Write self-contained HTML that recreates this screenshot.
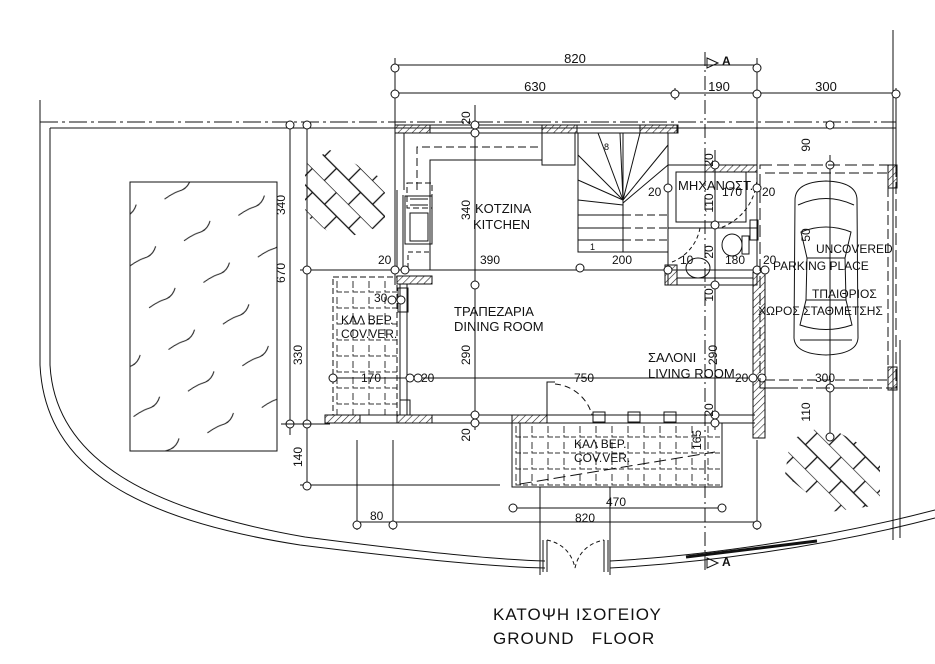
<!DOCTYPE html>
<html><head><meta charset="utf-8">
<style>
html,body{margin:0;padding:0;background:#fff;}
svg{display:block;}
text{font-family:"Liberation Sans","DejaVu Sans",sans-serif;fill:#111;}
</style></head>
<body>
<svg width="935" height="664" viewBox="0 0 935 664" xmlns="http://www.w3.org/2000/svg">
<defs>
 <pattern id="hatch" width="5" height="5" patternUnits="userSpaceOnUse" patternTransform="rotate(45)">
  <line x1="0" y1="0" x2="0" y2="5" stroke="#222" stroke-width="1.2"/>
 </pattern>
 <pattern id="tile" width="16" height="16" patternUnits="userSpaceOnUse" x="335" y="279">
  <path d="M2 2 V13 H14" fill="none" stroke="#333" stroke-width="1" stroke-dasharray="7,2"/>
 </pattern>
 <pattern id="tile2" width="16" height="16" patternUnits="userSpaceOnUse" x="514" y="424">
  <path d="M2 2 V13 H14" fill="none" stroke="#333" stroke-width="1" stroke-dasharray="7,2"/>
 </pattern>
 <pattern id="herr" width="34" height="34" patternUnits="userSpaceOnUse" patternTransform="rotate(45)">
  <rect x="0" y="0" width="34" height="17" fill="none" stroke="#111" stroke-width="1.3"/>
  <line x1="17" y1="17" x2="17" y2="34" stroke="#111" stroke-width="1.3"/>
 </pattern>
 <pattern id="grass" width="60" height="46" patternUnits="userSpaceOnUse" patternTransform="rotate(-25)">
  <path d="M5 20 q10 -2 18 -1 q8 1 14 -6" fill="none" stroke="#222" stroke-width="1"/>
 </pattern>
 <clipPath id="hb1"><polygon points="330,150 385,180 385,225 340,240 305,215 305,165"/></clipPath>
 <clipPath id="hb2"><polygon points="825,425 880,455 880,505 830,512 785,475 790,440"/></clipPath>
</defs>

<g fill="none" stroke="#111" stroke-width="1">
 <line x1="40" y1="100" x2="40" y2="365"/>
 <line x1="40" y1="122" x2="896" y2="122" stroke-dasharray="18,4,3,4"/>
 <line x1="50" y1="128" x2="896" y2="128"/>
 <line x1="50" y1="128" x2="50" y2="365"/>
 <path d="M40 365 C45 470 140 520 300 545 C420 560 500 567 545 568"/>
 <path d="M50 365 C55 460 150 510 305 537 C420 552 500 560 545 561"/>
 <path d="M610 568 C700 563 820 548 935 518"/>
 <path d="M610 561 C700 556 820 540 935 510"/>
 <line x1="893" y1="30" x2="893" y2="540"/>
 <line x1="900" y1="340" x2="900" y2="538"/>
 <line x1="686" y1="557" x2="817" y2="541" stroke-width="3"/>
 <rect x="130" y="182" width="147" height="269" fill="url(#grass)"/>
 <rect x="300" y="145" width="90" height="100" fill="url(#herr)" stroke="none" clip-path="url(#hb1)"/>
 <rect x="780" y="420" width="105" height="100" fill="url(#herr)" stroke="none" clip-path="url(#hb2)"/>

 <line x1="395" y1="65" x2="757" y2="65"/>
 <line x1="395" y1="93" x2="896" y2="93"/>
 <line x1="395" y1="58" x2="395" y2="125"/>
 <line x1="757" y1="58" x2="757" y2="165"/>
 <line x1="675" y1="88" x2="675" y2="100"/>
 <line x1="896" y1="88" x2="896" y2="165"/>
 <g fill="#fff">
 <circle cx="395" cy="68" r="4"/><circle cx="395" cy="94" r="4"/><circle cx="675" cy="94" r="4"/>
 <circle cx="757" cy="68" r="4"/><circle cx="757" cy="94" r="4"/><circle cx="896" cy="94" r="4"/>
 </g>
 <line x1="705" y1="52" x2="705" y2="572" stroke-dasharray="14,4,2,4"/>
 <path d="M707 58 L718 63 L707 68 Z"/>
 <path d="M707 558 L718 563 L707 568 Z"/>

 <line x1="290" y1="122" x2="290" y2="435"/>
 <line x1="307" y1="122" x2="307" y2="485"/>
 <line x1="300" y1="270" x2="395" y2="270"/>
 <line x1="300" y1="485" x2="500" y2="485"/>
 <g fill="#fff">
 <circle cx="290" cy="125" r="4"/><circle cx="307" cy="125" r="4"/><circle cx="307" cy="270" r="4"/>
 <circle cx="290" cy="424" r="4"/><circle cx="307" cy="424" r="4"/><circle cx="307" cy="486" r="4"/>
 </g>
 <line x1="281" y1="424" x2="330" y2="424"/>

 <rect x="395" y="125" width="283" height="8"/>
 <rect x="395" y="125" width="35" height="8" fill="url(#hatch)"/>
 <rect x="542" y="125" width="35" height="8" fill="url(#hatch)"/>
 <rect x="640" y="125" width="37" height="8" fill="url(#hatch)"/>
 <line x1="395" y1="125" x2="395" y2="285"/>
 <line x1="404" y1="133" x2="404" y2="190"/>
 <line x1="397" y1="190" x2="397" y2="270"/>
 <line x1="403" y1="195" x2="403" y2="270"/>
 <path d="M417 190 V147 H542" stroke-dasharray="8,4"/>
 <path d="M430 270 V160 H542"/>
 <rect x="542" y="133" width="33" height="32"/>
 <rect x="407" y="183" width="25" height="25" stroke-dasharray="6,3"/>
 <rect x="405" y="196" width="27" height="48"/>
 <rect x="410" y="213" width="18" height="28"/>
 <line x1="410" y1="199" x2="428" y2="199"/><line x1="410" y1="205" x2="428" y2="205"/>
 <rect x="408" y="252" width="22" height="18" stroke-dasharray="5,3"/>
 <rect x="578" y="133" width="90" height="119"/>
 <line x1="623" y1="133" x2="623" y2="252"/>
 <g>
 <line x1="578" y1="155" x2="623" y2="200"/><line x1="598" y1="133" x2="623" y2="200"/>
 <line x1="620" y1="133" x2="623" y2="200"/><line x1="640" y1="133" x2="623" y2="200"/>
 <line x1="668" y1="145" x2="623" y2="200"/><line x1="668" y1="165" x2="623" y2="203"/>
 <line x1="578" y1="180" x2="623" y2="200"/><line x1="578" y1="200" x2="623" y2="205"/>
 <line x1="578" y1="215" x2="623" y2="215"/><line x1="578" y1="228" x2="623" y2="228"/>
 <line x1="578" y1="240" x2="623" y2="240"/>
 <line x1="623" y1="215" x2="668" y2="215" stroke-dasharray="8,4"/>
 <line x1="623" y1="228" x2="668" y2="228" stroke-dasharray="8,4"/>
 <line x1="623" y1="240" x2="668" y2="240" stroke-dasharray="8,4"/>
 </g>
 <rect x="668" y="165" width="89" height="63"/>
 <rect x="676" y="172" width="70" height="50"/>
 <rect x="705" y="165" width="52" height="7" fill="url(#hatch)"/>
 <path d="M757 175 A55 55 0 0 1 720 228" stroke-dasharray="4,3"/>
 <rect x="668" y="228" width="89" height="57"/>
 <rect x="665" y="265" width="12" height="20" fill="url(#hatch)"/>
 <line x1="677" y1="278" x2="753" y2="278"/>
 <path d="M700 228 A45 45 0 0 1 672 262" stroke-dasharray="4,3"/>
 <ellipse cx="732" cy="245" rx="10" ry="11"/>
 <rect x="742" y="236" width="7" height="18"/>
 <ellipse cx="698" cy="268" rx="12" ry="10"/>
 <rect x="753" y="272" width="12" height="166" fill="url(#hatch)"/>
 <rect x="750" y="220" width="8" height="20"/>
 <line x1="330" y1="270" x2="760" y2="270"/>
 <rect x="397" y="276" width="35" height="8" fill="url(#hatch)"/>
 <line x1="400" y1="284" x2="400" y2="415"/>
 <line x1="407" y1="284" x2="407" y2="415"/>
 <rect x="398" y="288" width="10" height="24"/>
 <rect x="400" y="400" width="10" height="15"/>
 <rect x="333" y="277" width="64" height="138" fill="url(#tile)" stroke-dasharray="6,3"/>
 <line x1="325" y1="415" x2="755" y2="415"/>
 <line x1="325" y1="423" x2="755" y2="423"/>
 <rect x="325" y="415" width="35" height="8" fill="url(#hatch)"/>
 <rect x="397" y="415" width="35" height="8" fill="url(#hatch)"/>
 <rect x="512" y="415" width="35" height="8" fill="url(#hatch)"/>
 <path d="M547 415 V382 H555"/>
 <path d="M555 384 A42 42 0 0 1 592 415" stroke-dasharray="6,4"/>
 <rect x="593" y="412" width="12" height="10"/><rect x="628" y="412" width="12" height="10"/><rect x="664" y="412" width="12" height="10"/>
 <rect x="512" y="423" width="210" height="64" fill="url(#tile2)"/>
 <line x1="520" y1="423" x2="520" y2="485"/>
 <line x1="520" y1="484" x2="715" y2="452" stroke-dasharray="12,5"/>
 <rect x="512" y="423" width="210" height="64"/>
 <line x1="475" y1="105" x2="475" y2="430"/>
 <line x1="330" y1="378" x2="760" y2="378"/>
 <line x1="715" y1="150" x2="715" y2="430"/>
 <line x1="830" y1="155" x2="830" y2="440"/>
 <line x1="760" y1="388" x2="896" y2="388" stroke-dasharray="10,4"/>
 <g fill="#fff">
 <circle cx="475" cy="125" r="4"/><circle cx="475" cy="133" r="4"/><circle cx="475" cy="285" r="4"/>
 <circle cx="475" cy="415" r="4"/><circle cx="475" cy="423" r="4"/>
 <circle cx="395" cy="270" r="4"/><circle cx="405" cy="270" r="4"/><circle cx="580" cy="268" r="4"/>
 <circle cx="668" cy="270" r="4"/><circle cx="757" cy="270" r="4"/><circle cx="765" cy="270" r="4"/>
 <circle cx="333" cy="378" r="4"/><circle cx="410" cy="378" r="4"/><circle cx="418" cy="378" r="4"/>
 <circle cx="753" cy="378" r="4"/><circle cx="762" cy="378" r="4"/>
 <circle cx="715" cy="165" r="4"/><circle cx="715" cy="225" r="4"/><circle cx="715" cy="285" r="4"/>
 <circle cx="715" cy="415" r="4"/><circle cx="715" cy="423" r="4"/>
 <circle cx="830" cy="125" r="4"/><circle cx="830" cy="165" r="4"/><circle cx="830" cy="388" r="4"/><circle cx="830" cy="437" r="4"/>
 <circle cx="668" cy="188" r="4"/><circle cx="757" cy="188" r="4"/><circle cx="401" cy="300" r="4"/><circle cx="392" cy="300" r="4"/>
 </g>
 <rect x="760" y="165" width="136" height="223" stroke-dasharray="12,5"/>
 <line x1="765" y1="173" x2="890" y2="173" stroke-dasharray="10,4"/>
 <line x1="888" y1="173" x2="888" y2="380" stroke-dasharray="10,4"/>
 <line x1="765" y1="380" x2="890" y2="380" stroke-dasharray="10,4"/>
 <rect x="888" y="165" width="9" height="23" fill="url(#hatch)"/>
 <rect x="888" y="367" width="9" height="23" fill="url(#hatch)"/>
 <!-- car -->
 <path d="M795 200 Q795 182 826 181 Q857 182 857 200 L858 338 Q857 354 826 355 Q795 354 794 338 Z"/>
 <path d="M798 205 Q826 192 854 205"/>
 <path d="M801 232 Q826 222 851 232 L845 258 L807 258 Z"/>
 <path d="M806 300 L846 300 L852 325 Q826 334 800 325 Z"/>
 <line x1="807" y1="258" x2="806" y2="300"/><line x1="845" y1="258" x2="846" y2="300"/>
 <line x1="800" y1="340" x2="852" y2="340"/>
 <line x1="513" y1="508" x2="722" y2="508"/>
 <line x1="357" y1="522" x2="757" y2="522"/>
 <line x1="357" y1="440" x2="357" y2="530"/>
 <line x1="393" y1="440" x2="393" y2="530"/>
 <line x1="757" y1="440" x2="757" y2="530"/>
 <line x1="540" y1="487" x2="540" y2="575"/>
 <line x1="610" y1="487" x2="610" y2="575"/>
 <g fill="#fff">
 <circle cx="513" cy="508" r="4"/><circle cx="722" cy="508" r="4"/>
 <circle cx="357" cy="525" r="4"/><circle cx="393" cy="525" r="4"/><circle cx="757" cy="525" r="4"/>
 </g>
 <line x1="543" y1="540" x2="543" y2="572"/><line x1="547" y1="540" x2="547" y2="572"/>
 <line x1="604" y1="540" x2="604" y2="572"/><line x1="608" y1="540" x2="608" y2="572"/>
 <path d="M547 540 Q570 545 575 568 Q580 545 604 540" stroke-dasharray="4,3"/>
</g>

<g font-size="12">
 <text x="575" y="63" text-anchor="middle" font-size="13">820</text>
 <text x="535" y="91" text-anchor="middle" font-size="13">630</text>
 <text x="719" y="91" text-anchor="middle" font-size="13">190</text>
 <text x="826" y="91" text-anchor="middle" font-size="13">300</text>
 <text x="722" y="65" font-size="12" font-weight="bold">A</text>
 <text x="722" y="566" font-size="12" font-weight="bold">A</text>
 <text x="604" y="150" font-size="9">8</text>
 <text x="590" y="250" font-size="9">1</text>
 <text x="475" y="213" font-size="13">KOTZINA</text>
 <text x="473" y="229" font-size="13">KITCHEN</text>
 <text x="454" y="316" font-size="13">ΤΡΑΠΕΖΑΡΙΑ</text>
 <text x="454" y="331" font-size="13">DINING ROOM</text>
 <text x="648" y="362" font-size="13">ΣΑΛΟΝΙ</text>
 <text x="648" y="378" font-size="13">LIVING ROOM</text>
 <text x="341" y="324" font-size="12">ΚΑΛ ΒΕΡ.</text>
 <text x="341" y="338" font-size="12">COV.VER.</text>
 <text x="574" y="448" font-size="12">ΚΑΛ ΒΕΡ.</text>
 <text x="574" y="462" font-size="12">COV.VER.</text>
 <text x="678" y="190" font-size="13">ΜΗΧΑΝΟΣΤ.</text>
 <text x="816" y="253" font-size="12">UNCOVERED</text>
 <text x="773" y="270" font-size="12">PARKING PLACE</text>
 <text x="812" y="298" font-size="12">ΤΠΑΙΘΡΙΟΣ</text>
 <text x="758" y="315" font-size="12">ΧΩΡΟΣ ΣΤΑΘΜΕΤΣΗΣ</text>
 <text x="480" y="264">390</text>
 <text x="612" y="264">200</text>
 <text x="378" y="264">20</text>
 <text x="680" y="264">10</text>
 <text x="725" y="264">180</text>
 <text x="763" y="264">20</text>
 <text x="361" y="382">170</text>
 <text x="421" y="382">20</text>
 <text x="574" y="382">750</text>
 <text x="735" y="382">20</text>
 <text x="815" y="382">300</text>
 <text x="648" y="196">20</text>
 <text x="762" y="196">20</text>
 <text x="722" y="196">170</text>
 <text x="374" y="302">30</text>
 <text x="606" y="506">470</text>
 <text x="575" y="522">820</text>
 <text x="370" y="520">80</text>
 <g font-size="12">
 <text transform="translate(285,205) rotate(-90)" text-anchor="middle">340</text>
 <text transform="translate(285,273) rotate(-90)" text-anchor="middle">670</text>
 <text transform="translate(302,355) rotate(-90)" text-anchor="middle">330</text>
 <text transform="translate(302,457) rotate(-90)" text-anchor="middle">140</text>
 <text transform="translate(470,210) rotate(-90)" text-anchor="middle">340</text>
 <text transform="translate(470,118) rotate(-90)" text-anchor="middle">20</text>
 <text transform="translate(470,355) rotate(-90)" text-anchor="middle">290</text>
 <text transform="translate(470,435) rotate(-90)" text-anchor="middle">20</text>
 <text transform="translate(717,355) rotate(-90)" text-anchor="middle">290</text>
 <text transform="translate(713,160) rotate(-90)" text-anchor="middle">20</text>
 <text transform="translate(713,203) rotate(-90)" text-anchor="middle">110</text>
 <text transform="translate(713,252) rotate(-90)" text-anchor="middle">20</text>
 <text transform="translate(713,295) rotate(-90)" text-anchor="middle">10</text>
 <text transform="translate(713,410) rotate(-90)" text-anchor="middle">20</text>
 <text transform="translate(701,440) rotate(-90)" text-anchor="middle">165</text>
 <text transform="translate(810,145) rotate(-90)" text-anchor="middle">90</text>
 <text transform="translate(810,235) rotate(-90)" text-anchor="middle">50</text>
 <text transform="translate(810,412) rotate(-90)" text-anchor="middle">110</text>
 </g>
 <text x="493" y="620" font-size="17" letter-spacing="1">ΚΑΤΟΨΗ ΙΣΟΓΕΙΟΥ</text>
 <text x="493" y="644" font-size="17" letter-spacing="1" xml:space="preserve">GROUND   FLOOR</text>
</g>
</svg>
</body></html>
